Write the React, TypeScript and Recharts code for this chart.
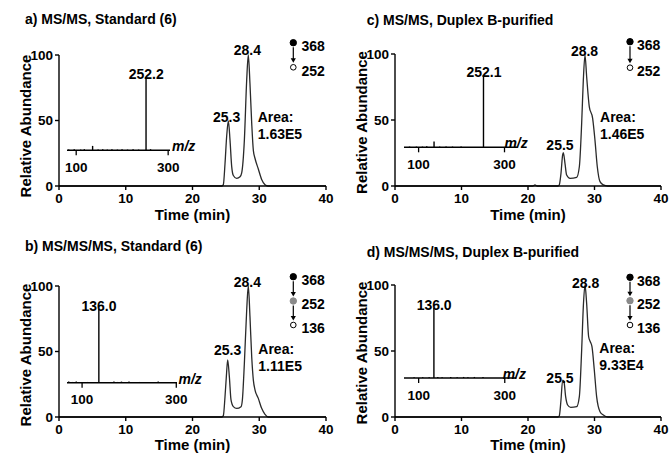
import React from "react"
import { LineChart, Line, XAxis, YAxis, BarChart, Bar, ReferenceDot } from "recharts"

const FONT = "'Liberation Sans', Arial, Helvetica, sans-serif"
const INK = "#000"
const TRACE = "#2a2a2a"

const timeTicks = [0, 10, 20, 30, 40]
const abundTicks = [0, 50, 100]
const mzTicks = [100, 300]

// chromatograms: retention time (min) vs relative abundance (%)
const timeA = [0, 24.4, 24.62, 24.87, 25.12, 25.37, 25.62, 25.87, 26.12, 26.62, 27.12, 27.37, 27.77, 28.12, 28.36, 28.61, 28.87, 29.12, 29.37, 29.86, 30.36, 30.86, 31.3, 40]
const abundA = [0, 0, 1, 17, 38, 49.6, 35, 15, 8, 5.8, 7, 10, 35, 81, 100, 78, 48, 27, 21, 13, 5, 1, 0, 0]

const timeB = [0, 24.4, 24.62, 24.87, 25.07, 25.27, 25.52, 25.77, 26.12, 26.62, 27.27, 27.47, 27.77, 28.12, 28.36, 28.61, 28.87, 29.12, 29.37, 29.86, 30.36, 30.86, 31.3, 40]
const abundB = [0, 0, 1, 15.5, 30.8, 43.5, 30.8, 13, 7.9, 6.6, 7.9, 13, 41, 81.7, 100, 76.6, 46, 28, 20.6, 14.2, 6.6, 2, 0, 0]

const timeC = [0, 20.7, 21.05, 21.4, 24.5, 24.71, 24.96, 25.21, 25.31, 25.56, 25.81, 26.32, 27.32, 27.72, 28.07, 28.32, 28.57, 28.82, 29.22, 29.72, 30.07, 30.42, 30.83, 31.33, 32, 40]
const abundC = [0, 0, 0.8, 0, 0, 1, 9.6, 23.5, 25.2, 17.2, 8.3, 5.8, 6.6, 14.6, 47.5, 80.3, 99.2, 82.8, 60, 51.3, 34.8, 14.6, 3.3, 0.8, 0, 0]

const timeD = [0, 24.5, 24.71, 24.96, 25.21, 25.41, 25.66, 25.96, 26.42, 27.32, 27.72, 28.07, 28.32, 28.57, 28.82, 29.12, 29.37, 29.62, 29.97, 30.32, 30.83, 31.33, 32, 40]
const abundD = [0, 0, 1, 12.9, 28, 26.8, 15.4, 9.1, 7.3, 7.8, 15.4, 50.8, 83.6, 100, 86, 60.8, 57, 53.3, 35.6, 15.4, 4, 1.5, 0, 0]

// inset product-ion spectra: m/z vs relative intensity
const mzA = [84, 96, 110, 118, 136, 148, 158, 168, 178, 190, 200, 212, 224, 236, 252.2, 262]
const intA = [1, 1.5, 1, 1.5, 6, 1, 1.5, 1, 1.5, 1, 1.5, 1, 1.5, 1, 100, 1.5]

const mzB = [72, 80, 88, 96, 112, 136.0, 160, 168, 176, 184, 192, 200, 210, 222, 240, 262, 285]
const intB = [1.5, 1, 1.5, 1, 1, 100, 1, 1.5, 1, 1.5, 1, 1.5, 1, 1, 1, 1.5, 1]

const mzC = [80, 96, 110, 120, 137, 150, 165, 180, 200, 252.1]
const intC = [1, 1, 1, 1.5, 8, 1, 1, 1, 1, 100]

const mzD = [90, 110, 125, 136.0, 145, 155, 175, 190, 205, 215, 230, 250]
const intD = [1, 1, 1, 100, 1.5, 1, 1.5, 1, 1.5, 1, 1.5, 1.5]

const panels = [
  {
    left: 0, top: 0, width: 335,
    title: "a) MS/MS, Standard (6)", titleX: 25, titleY: 19,
    times: timeA, abund: abundA,
    plot: { left: 59, right: 326, top: 55, height: 131 },
    peakText: ["25.3", "28.4"], peakT: [25.12, 28.21], peakV: [49.1, 100],
    areaText: "1.63E5", areaT: 29.77, areaV: 48.6,
    ions: ["368", "252"], ionY: [42.7, 67.3], ionX: 293.3, ionTextX: 301.5,
    mz: mzA, intensity: intA, baseMz: 252.2, baseMzText: "252.2",
    inset: { x0: 67, x1: 170, yTop: 76.7, yBase: 150, lo: 80, hi: 304, mzDx: 2 },
    yLabelX: 25, yLabelY: 126, timeLabelDy: 33.5,
  },
  {
    left: 0, top: 229, width: 335,
    title: "b) MS/MS/MS, Standard (6)", titleX: 25, titleY: 16.7,
    times: timeB, abund: abundB,
    plot: { left: 59, right: 326, top: 57, height: 131 },
    peakText: ["25.3", "28.4"], peakT: [25.27, 28.21], peakV: [47.3, 99.5],
    areaText: "1.11E5", areaT: 29.86, areaV: 47.9,
    ions: ["368", "252", "136"], ionY: [47.7, 72, 96], ionX: 293.3, ionTextX: 301.5,
    mz: mzB, intensity: intB, baseMz: 136.0, baseMzText: "136.0",
    inset: { x0: 66.7, x1: 176.7, yTop: 80, yBase: 153.7, lo: 68, hi: 301.5, mzDx: 1.5 },
    yLabelX: 25, yLabelY: 126, timeLabelDy: 33,
  },
  {
    left: 335, top: 0, width: 336,
    title: "c) MS/MS, Duplex B-purified", titleX: 31.7, titleY: 20,
    times: timeC, abund: abundC,
    plot: { left: 60, right: 326, top: 54, height: 132 },
    peakText: ["25.5", "28.8"], peakT: [24.81, 28.5], peakV: [27.3, 98.5],
    areaText: "1.46E5", areaT: 30.83, areaV: 48.3,
    ions: ["368", "252"], ionY: [41.7, 67.7], ionX: 295, ionTextX: 302,
    mz: mzC, intensity: intC, baseMz: 252.1, baseMzText: "252.1",
    inset: { x0: 69.3, x1: 182.7, yTop: 75, yBase: 147.3, lo: 66, hi: 330, mzDx: -13 },
    yLabelX: 26.7, yLabelY: 122.5, timeLabelDy: 33.5,
  },
  {
    left: 335, top: 229, width: 336,
    title: "d) MS/MS/MS, Duplex B-purified", titleX: 31.7, titleY: 23,
    times: timeD, abund: abundD,
    plot: { left: 60, right: 326, top: 56, height: 132 },
    peakText: ["25.5", "28.8"], peakT: [24.81, 28.67], peakV: [25.8, 97.7],
    areaText: "9.33E4", areaT: 30.72, areaV: 48.3,
    ions: ["368", "252", "136"], ionY: [48.3, 71.7, 96], ionX: 295, ionTextX: 302,
    mz: mzD, intensity: intD, baseMz: 136.0, baseMzText: "136.0",
    inset: { x0: 69.3, x1: 181.7, yTop: 79.3, yBase: 149.3, lo: 66, hi: 327, mzDx: -13.7 },
    yLabelX: 26.7, yLabelY: 124, timeLabelDy: 33,
  },
]

const bold = { fill: INK, fontSize: 14, fontWeight: 700, fontFamily: FONT }
const tickFont = { ...bold, fontSize: 13.5 }
const axisTitle = { ...bold, fontSize: 15 }

function Panel({ p }: { p: any }) {
  const data = p.times.map((t: number, i: number) => ({ t, v: p.abund[i] }))
  const spec = p.mz.map((m: number, i: number) => ({ m, y: p.intensity[i] }))
  const H = 229
  const xAxisH = H - p.plot.top - p.plot.height
  const plotMidX = (p.plot.left + p.plot.right) / 2
  const ins = p.inset
  const pad = { top: 24, right: 36, left: 4 }
  const insAxisH = 30
  const insW = pad.left + (ins.x1 - ins.x0) + pad.right
  const insH = pad.top + (ins.yBase - ins.yTop) + insAxisH

  return (
    <div style={{ position: "absolute", left: p.left, top: p.top, width: p.width, height: H }}>
      <div style={{ position: "absolute", left: p.titleX, top: p.titleY - 9, font: `bold 14px ${FONT}`, lineHeight: "18px", whiteSpace: "nowrap" }}>
        {p.title}
      </div>
      <div style={{ position: "absolute", left: 0, top: 0 }}>
        <LineChart width={p.width} height={H} data={data} margin={{ top: p.plot.top, right: p.width - p.plot.right, bottom: 0, left: 0 }}>
          <XAxis
            type="number" dataKey="t" domain={[0, 40]} ticks={timeTicks} interval={0}
            height={xAxisH} tickSize={4} tickMargin={3}
            axisLine={{ stroke: INK, strokeWidth: 1.4 }} tickLine={{ stroke: INK, strokeWidth: 1.4 }}
            tick={tickFont}
            label={() => (
              <text x={plotMidX} y={p.plot.top + p.plot.height + p.timeLabelDy} textAnchor="middle" {...axisTitle}>Time (min)</text>
            )}
          />
          <YAxis
            type="number" domain={[0, 100]} ticks={abundTicks} interval={0}
            width={p.plot.left} tickSize={4} tickMargin={2}
            axisLine={{ stroke: INK, strokeWidth: 1.4 }} tickLine={{ stroke: INK, strokeWidth: 1.4 }}
            tick={tickFont}
            label={() => (
              <text x={p.yLabelX} y={p.yLabelY} transform={`rotate(-90 ${p.yLabelX} ${p.yLabelY})`} textAnchor="middle" dominantBaseline="central" {...axisTitle}>
                Relative Abundance
              </text>
            )}
          />
          <Line dataKey="v" type="monotone" stroke={TRACE} strokeWidth={1.3} dot={false} isAnimationActive={false} />
          {p.peakText.map((s: string, i: number) => (
            <ReferenceDot
              key={s + i} x={p.peakT[i]} y={p.peakV[i]} r={0}
              shape={(d: any) => <text x={d.cx} y={d.cy} textAnchor="middle" {...bold}>{s}</text>}
            />
          ))}
          <ReferenceDot
            x={p.areaT} y={p.areaV} r={0}
            shape={(d: any) => (
              <text x={d.cx} y={d.cy} {...bold}>
                <tspan x={d.cx}>Area:</tspan>
                <tspan x={d.cx} dy={17}>{p.areaText}</tspan>
              </text>
            )}
          />
        </LineChart>
      </div>
      <div style={{ position: "absolute", left: ins.x0 - pad.left, top: ins.yTop - pad.top }}>
        <BarChart width={insW} height={insH} data={spec} margin={{ top: pad.top, right: pad.right, left: pad.left, bottom: 0 }}>
          <XAxis
            type="number" dataKey="m" domain={[ins.lo, ins.hi]} ticks={mzTicks} interval={0}
            height={insAxisH} tickSize={5} tickMargin={7}
            axisLine={{ stroke: INK, strokeWidth: 1.6 }} tickLine={{ stroke: INK, strokeWidth: 1.3 }}
            tick={tickFont}
            label={() => (
              <text x={pad.left + (ins.x1 - ins.x0) + ins.mzDx} y={pad.top + (ins.yBase - ins.yTop) + 1} {...bold} fontStyle="italic">m/z</text>
            )}
          />
          <YAxis hide domain={[0, 100]} />
          <Bar dataKey="y" fill={INK} barSize={1.4} isAnimationActive={false} />
          <ReferenceDot
            x={p.baseMz} y={100} r={0}
            shape={(d: any) => <text x={d.cx} y={d.cy + 2} textAnchor="middle" {...bold}>{p.baseMzText}</text>}
          />
        </BarChart>
      </div>
      <svg width={p.width} height={H} style={{ position: "absolute", left: 0, top: 0, pointerEvents: "none" }}>
        {p.ions.map((ion: string, i: number) => {
          const y = p.ionY[i]
          const last = i === p.ions.length - 1
          const fill = i === 0 ? INK : last ? "#fff" : "#8a8a8a"
          const next = p.ionY[i + 1]
          return (
            <g key={ion}>
              <circle cx={p.ionX} cy={y} r={last ? 2.8 : 3.2} fill={fill} stroke={last ? INK : fill} strokeWidth={1} />
              {!last && (
                <g>
                  <line x1={p.ionX} y1={y + 4.5} x2={p.ionX} y2={next - 8} stroke={INK} strokeWidth={1.2} />
                  <polygon points={`${p.ionX - 2.6},${next - 9} ${p.ionX + 2.6},${next - 9} ${p.ionX},${next - 4.5}`} fill={INK} />
                </g>
              )}
              <text x={p.ionTextX} y={y + 8.3} {...bold}>{ion}</text>
            </g>
          )
        })}
      </svg>
    </div>
  )
}

export default function App() {
  return (
    <div style={{ position: "absolute", left: 0, top: 0, width: 671, height: 458, background: "#fff", overflow: "hidden" }}>
      {panels.map((p) => (
        <Panel key={p.title} p={p} />
      ))}
    </div>
  )
}
